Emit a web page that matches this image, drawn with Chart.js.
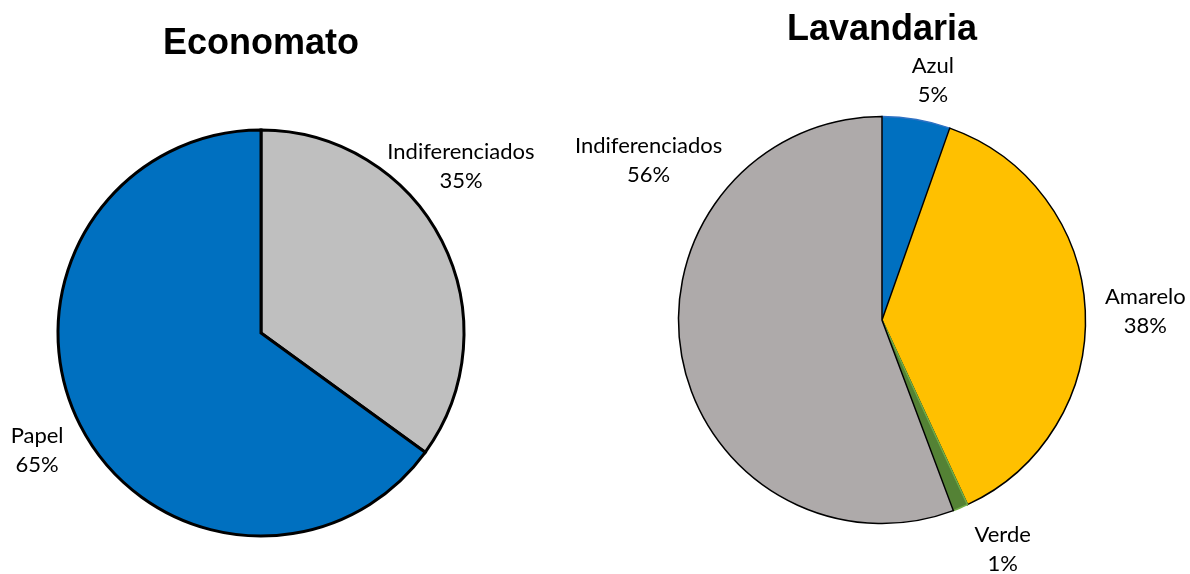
<!DOCTYPE html>
<html>
<head>
<meta charset="utf-8">
<script src="https://cdn.jsdelivr.net/npm/chart.js@4/dist/chart.umd.min.js"></script>
<style>
  html, body { margin: 0; padding: 0; background: #ffffff; }
  body { width: 1190px; height: 574px; position: relative; overflow: hidden; }
  .box { position: absolute; left: 0px; top: 0px; width: 1190px; height: 574px; }
</style>
</head>
<body>
<div class="box" id="boxA"><canvas id="chartA"></canvas></div>
<div class="box" id="boxB"><canvas id="chartB"></canvas></div>
<script>
// ---- Data ----
const economatoTitle = 'Economato';
const economatoLabels = ['Indiferenciados', 'Papel'];
const economatoValues = [35, 65];

const lavandariaTitle = 'Lavandaria';
const lavandariaLabels = ['Azul', 'Amarelo', 'Verde', 'Indiferenciados'];
const lavandariaValues = [5.4, 37.7, 1.2, 55.7];

// ---- Styles ----
const economatoColors = ['#BFBFBF', '#0070C0'];
const economatoBorders = ['#000000', '#000000'];
const lavandariaColors = ['#0070C0', '#FFC000', '#548235', '#AEAAAA'];
const lavandariaBorders = ['#2F72C4', '#000000', '#70AD47', '#000000'];

// label block centers, relative to pie centre, in units of the radius
const economatoLabelPos = [[0.985, -0.819], [-1.103, 0.578]];
const lavandariaLabelPos = [[0.25, -1.176], [1.294, -0.042], [0.593, 1.125], [-1.147, -0.782]];

const labelFont = '22px Lato, "Open Sans", sans-serif';
const labelLineGap = 29;

const pieLabelsPlugin = {
  id: 'pieLabels',
  afterDatasetsDraw(chart, args, opts) {
    const ctx = chart.ctx;
    const meta = chart.getDatasetMeta(0);
    const ds = chart.data.datasets[0];
    const total = ds.data.reduce((a, b) => a + b, 0);
    ctx.save();
    ctx.font = labelFont;
    ctx.fillStyle = '#000000';
    ctx.textAlign = 'center';
    ctx.textBaseline = 'middle';
    meta.data.forEach((arc, i) => {
      const r = arc.outerRadius;
      const p = opts.positions[i];
      const cx = arc.x + p[0] * r;
      const cy = arc.y + p[1] * r;
      const pct = Math.round(ds.data[i] / total * 100) + '%';
      ctx.fillText(chart.data.labels[i], cx, cy - labelLineGap / 2);
      ctx.fillText(pct, cx, cy + labelLineGap / 2);
    });
    ctx.restore();
  }
};

function makePie(canvasId, title, labels, values, colors, borders, borderWidth, radius, titlePad, layoutPad, positions) {
  return new Chart(document.getElementById(canvasId), {
    type: 'pie',
    data: {
      labels: labels,
      datasets: [{
        data: values,
        backgroundColor: colors,
        borderColor: borders,
        borderWidth: borderWidth,
        borderJoinStyle: 'miter',
        radius: radius
      }]
    },
    options: {
      responsive: true,
      maintainAspectRatio: false,
      animation: false,
      events: [],
      layout: { padding: layoutPad },
      plugins: {
        legend: { display: false },
        tooltip: { enabled: false },
        title: {
          display: true,
          text: title,
          color: '#000000',
          font: { family: '"Liberation Sans", Arial, sans-serif', size: 36, weight: 'bold', lineHeight: 1.2 },
          padding: titlePad
        },
        pieLabels: { positions: positions }
      }
    },
    plugins: [pieLabelsPlugin]
  });
}

makePie('chartA', economatoTitle, economatoLabels, economatoValues, economatoColors, economatoBorders, 3, 203,
        { top: 22.4, bottom: 26.4 }, { left: 0, right: 668, top: 0, bottom: 0 }, economatoLabelPos);
makePie('chartB', lavandariaTitle, lavandariaLabels, lavandariaValues, lavandariaColors, lavandariaBorders, 1.5, 203.5,
        { top: 8.4, bottom: 14.4 }, { left: 595, right: 21, top: 0, bottom: 0 }, lavandariaLabelPos);
</script>
</body>
</html>
